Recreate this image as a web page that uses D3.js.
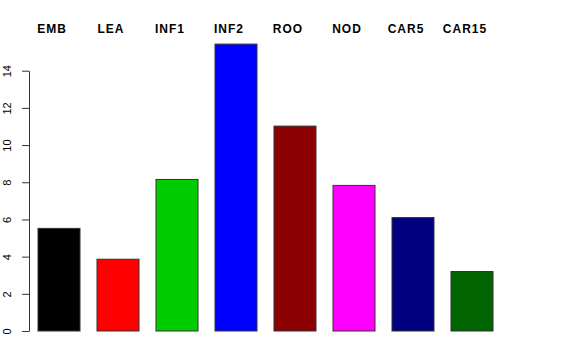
<!DOCTYPE html>
<html>
<head>
<meta charset="utf-8">
<script src="https://cdn.jsdelivr.net/npm/d3@7"></script>
<style>
  body { margin: 0; background: #fff; }
  svg { display: block; }
  .lab { font-family: "Liberation Sans", Arial, sans-serif; font-weight: bold; font-size: 12px; letter-spacing: 1px; }
  .tick text { font-family: "Liberation Sans", Arial, sans-serif; font-size: 11px; }
</style>
</head>
<body>
<svg width="576" height="360"></svg>
<script>
const categories = ["EMB", "LEA", "INF1", "INF2", "ROO", "NOD", "CAR5", "CAR15"];
const values = [5.52, 3.86, 8.15, 15.43, 11.02, 7.83, 6.1, 3.2];
const colors = ["#000000", "#ff0000", "#00cd00", "#0000ff", "#8b0000", "#ff00ff", "#000080", "#006400"];
const yTicks = [0, 2, 4, 6, 8, 10, 12, 14];

const svg = d3.select("svg");

// step 59px, bars 42px wide, first bar starting at 38
const x = d3.scaleBand().domain(categories).range([29, 502]).paddingInner(0.288).paddingOuter(0.1525);
const y = d3.scaleLinear().domain([0, 14]).range([331, 70.7]);

svg
  .selectAll("rect.bar")
  .data(categories)
  .join("rect")
  .attr("class", "bar")
  .attr("x", (d) => x(d))
  .attr("width", x.bandwidth())
  .attr("y", (d, i) => y(values[i]))
  .attr("height", (d, i) => y(0) - y(values[i]))
  .attr("fill", (d, i) => colors[i])
  .attr("stroke", "#333")
  .attr("stroke-width", 1);

// category names along the top, a bit left of the bar centres
svg
  .selectAll("text.lab")
  .data(categories)
  .join("text")
  .attr("class", "lab")
  .attr("x", (d) => x(d) + x.bandwidth() / 2 - 7)
  .attr("y", 33)
  .attr("text-anchor", "middle")
  .text((d) => d);

const axis = svg
  .append("g")
  .attr("transform", "translate(29,0)")
  .call(d3.axisLeft(y).tickValues(yTicks).tickSize(7).tickSizeOuter(0));
axis.select(".domain").attr("stroke", "#333");
axis.selectAll(".tick line").attr("stroke", "#333");
axis
  .selectAll(".tick text")
  .attr("fill", "#000")
  .attr("x", 0)
  .attr("y", 0)
  .attr("dy", 0)
  .attr("text-anchor", "middle")
  .attr("transform", "translate(-18.5,0) rotate(-90)");
</script>
</body>
</html>
